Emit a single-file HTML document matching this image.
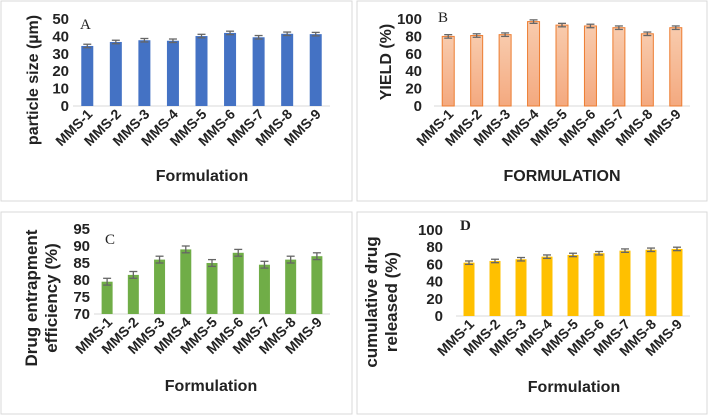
<!DOCTYPE html>
<html><head><meta charset="utf-8">
<style>
html,body{margin:0;padding:0;background:#fff;}
svg{display:block;font-family:"Liberation Sans",Arial,sans-serif;}
.tick{font-size:15px;font-weight:bold;fill:#222;}
.xl{font-size:14px;font-weight:bold;fill:#222;}
.ttl{font-size:16px;font-weight:bold;fill:#222;}
.ttl2{font-size:17px;font-weight:bold;fill:#222;}
</style></head>
<body>
<svg id="root" width="711" height="418" viewBox="0 0 711 418">
<defs>
<linearGradient id="gB" x1="0" y1="0" x2="0" y2="1"><stop offset="0" stop-color="#F8CBAD"/><stop offset="1" stop-color="#F4A97F"/></linearGradient>
</defs>
<rect x="1" y="1" width="351" height="200" fill="#fff" stroke="#d9d9d9"/>
<rect x="357" y="1" width="350" height="200" fill="#fff" stroke="#d9d9d9"/>
<rect x="1" y="212" width="351" height="202" fill="#fff" stroke="#d9d9d9"/>
<rect x="357" y="212" width="350" height="202" fill="#fff" stroke="#d9d9d9"/>
<text x="80" y="29" font-family="Liberation Serif,serif" font-size="15" fill="#222">A</text>
<text x="438" y="22" font-family="Liberation Serif,serif" font-size="15" fill="#222">B</text>
<text x="105" y="244" font-family="Liberation Serif,serif" font-size="15" fill="#222">C</text>
<text x="460" y="230" font-family="Liberation Serif,serif" font-size="15" font-weight="bold" fill="#222">D</text>
</svg>
<script>
const categories = ["MMS-1","MMS-2","MMS-3","MMS-4","MMS-5","MMS-6","MMS-7","MMS-8","MMS-9"];
const sizeValues = [34.5,36.8,37.8,37.5,40.2,42,39.5,41.5,41.3];
const sizeErrors = [1,1,1,1,1,1,1,1,1];
const sizeTicks = [0,10,20,30,40,50];
const yieldValues = [80,81,82,97,93,92,90,83,90];
const yieldErrors = [2,2,2,2,2,2,2,2,2];
const yieldTicks = [0,20,40,60,80,100];
const eeValues = [79.5,81.5,86,89,85,88,84.5,86,87];
const eeErrors = [1,1,1,1,1,1,1,1,1];
const eeTicks = [70,75,80,85,90,95];
const releaseValues = [62,64,66,69,71,73,76,77,78];
const releaseErrors = [2,2,2,2,2,2,2,2,2];
const releaseTicks = [0,20,40,60,80,100];

const NS="http://www.w3.org/2000/svg";
const root=document.getElementById('root');
function mk(tag,attrs,parent){const e=document.createElementNS(NS,tag);for(const k in attrs)e.setAttribute(k,attrs[k]);(parent||root).appendChild(e);return e;}

function chart(o){
  const g=mk('g',{});
  
  
  const min=o.ticks[0],max=o.ticks[o.ticks.length-1];
  const y=v=>o.y0-(v-min)/(max-min)*(o.y0-o.y1);
  const step=(o.x1-o.x0)/categories.length;
  const x=i=>o.x0+step*(i+0.5);
  o.ticks.forEach(t=>{
    const tx=mk('text',{x:o.tickX,y:y(t)+5,'text-anchor':'end',class:'tick'},g);
    tx.textContent=t;
    
    
  });
  const ax=mk('line',{x1:o.x0,x2:o.x1,y1:o.y0,y2:o.y0,stroke:'#d9d9d9','stroke-width':1},g);
  
  
  categories.forEach((c,i)=>{
    const v=o.values[i],e=o.errors[i],bw=o.bw;
    const r=mk('rect',{x:x(i)-bw/2,y:y(v),width:bw,height:o.y0-y(v),fill:o.fill,stroke:o.stroke||'none','stroke-width':1},g);
    
    
    const eg=mk('g',{stroke:'#666','stroke-width':1.3},g);
    
    
    mk('line',{x1:x(i),x2:x(i),y1:y(v+e),y2:y(v-e)},eg);
    mk('line',{x1:x(i)-4,x2:x(i)+4,y1:y(v+e),y2:y(v+e)},eg);
    mk('line',{x1:x(i)-4,x2:x(i)+4,y1:y(v-e),y2:y(v-e)},eg);
    const lx=x(i)+6,ly=o.y0+9;
    const t=mk('text',{x:lx,y:ly,'text-anchor':'end',class:'xl',transform:`rotate(-45 ${lx} ${ly})`},g);
    t.textContent=c;
    
    
  });
  const xt=mk('text',{x:o.xtX,y:o.xtY,'text-anchor':'middle',class:'ttl'},g);
  xt.textContent=o.xTitle;
  
  
  o.yTitle.forEach((s,k)=>{
    const px=o.ytX[k],py=o.ytY;
    const t=mk('text',{x:px,y:py,'text-anchor':'middle',class:o.ytClass||'ttl',transform:`rotate(-90 ${px} ${py})`},g);
    t.textContent=s;
    
    
  });
}
chart({name:'chart-a-particle-size',values:sizeValues,errors:sizeErrors,ticks:sizeTicks,x0:73,x1:330,y0:106,y1:19,bw:12,fill:'#4472C4',tickX:69,xTitle:'Formulation',xtX:202,xtY:181,yTitle:['particle size (µm)'],ytX:[38],ytY:80});
chart({name:'chart-b-yield',values:yieldValues,errors:yieldErrors,ticks:yieldTicks,x0:434,x1:690,y0:106,y1:19,bw:12,fill:'url(#gB)',stroke:'#ED7D31',tickX:422,xTitle:'FORMULATION',xtX:562,xtY:181,yTitle:['YIELD (%)'],ytX:[391],ytY:62});
chart({name:'chart-c-entrapment',values:eeValues,errors:eeErrors,ticks:eeTicks,x0:94,x1:330,y0:314,y1:229,bw:11,fill:'#70AD47',tickX:90,xTitle:'Formulation',xtX:211,xtY:391,yTitle:['Drug entrapment','efficiency (%)'],ytX:[37,57],ytY:298,ytClass:'ttl2'});
chart({name:'chart-d-release',values:releaseValues,errors:releaseErrors,ticks:releaseTicks,x0:456,x1:690,y0:316,y1:230,bw:11,fill:'#FFC000',tickX:443,xTitle:'Formulation',xtX:574,xtY:392,yTitle:['cumulative drug','released (%)'],ytX:[377,397],ytY:302,ytClass:'ttl2'});
</script>
</body></html>
